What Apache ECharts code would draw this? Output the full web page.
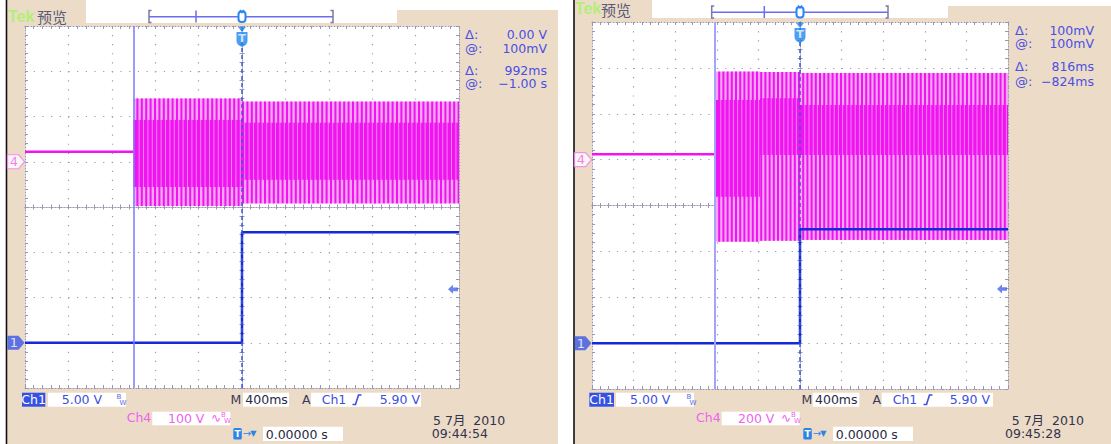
<!DOCTYPE html>
<html><head><meta charset="utf-8">
<script src="https://cdn.jsdelivr.net/npm/echarts@6.0.0/dist/echarts.min.js"></script>
<style>html,body{margin:0;padding:0;background:#fff;overflow:hidden}#c{width:1111px;height:444px}</style>
</head><body><div id="c"></div>
<script>
// ===================== DATA (read from the two captures) =====================
// time base: 400 ms/div, 10 divisions, trigger point at 0 ms
const TIME_MIN = -2000, TIME_MAX = 2000, TIME_DIV = 400;
const DIV_MIN = -4, DIV_MAX = 4;

// ---- left capture ----
const L_CH1_VDIV = 5,   L_CH1_POS = -3;   // Ch1 5.00 V/div, ground marker 3 div below centre
const L_CH4_VDIV = 100, L_CH4_POS = 1;    // Ch4 100 V/div, ground marker 1 div above centre
const L_CH1_TIME = [-2000, 0, 0, 2000];
const L_CH1_VOLT = [0, 0, 12.2, 12.2];
const L_CH4_IDLE_TIME = [-2000, -1000];
const L_CH4_IDLE_VOLT = [22, 22];
const L_ENV_START = [-1000, 0];
const L_ENV_END   = [0, 2000];
const L_ENV_MAX   = [140, 133];
const L_ENV_MIN   = [-98, -92];
const L_CORE_MAX  = [92, 86];
const L_CORE_MIN  = [-56, -40];
const L_CURSOR = -1000;
const L_TRIG_LEVEL = 5.90;
const L_READ_VALUES = ['0.00 V', '100mV', '992ms', '\u22121.00 s'];
const L_DATE = '5 7月  2010', L_CLOCK = '09:44:54';

// ---- right capture ----
const R_CH1_VDIV = 5,   R_CH1_POS = -3;
const R_CH4_VDIV = 200, R_CH4_POS = 1;
const R_CH1_TIME = [-2000, 0, 0, 2000];
const R_CH1_VOLT = [0, 0, 12.4, 12.4];
const R_CH4_IDLE_TIME = [-2000, -820];
const R_CH4_IDLE_VOLT = [23, 23];
const R_ENV_START = [-820, -385, 0];
const R_ENV_END   = [-385, 0, 2000];
const R_ENV_MAX   = [384, 382, 378];
const R_ENV_MIN   = [-358, -354, -350];
const R_CORE_MAX  = [260, 268, 238];
const R_CORE_MIN  = [-162, 20, 20];
const R_CURSOR = -824;
const R_TRIG_LEVEL = 5.90;
const R_READ_VALUES = ['100mV', '100mV', '816ms', '\u2212824ms'];
const R_DATE = '5 7月  2010', R_CLOCK = '09:45:28';

const READ_LABELS = ['\u0394:', '@:', '\u0394:', '@:'];

// ===================== STYLE / LAYOUT =====================
const BEIGE = '#ecdcc7', GRID_C = '#9898b4', MAG = '#f014f0', PINK = '#f6a6f4';
const BLUE = '#1629d8', READ_C = '#4a4fe6', DARK = '#33334d', PINKTXT = '#ee62ee';
const F = '"DejaVu Sans", "Noto Sans CJK SC", sans-serif';

const PANELS = [
  { grid: {left: 25, top: 26, width: 434, height: 362}, stripe: 4.4,
    ch1: {vdiv: L_CH1_VDIV, pos: L_CH1_POS, t: L_CH1_TIME, v: L_CH1_VOLT},
    ch4: {vdiv: L_CH4_VDIV, pos: L_CH4_POS, t: L_CH4_IDLE_TIME, v: L_CH4_IDLE_VOLT,
          env: [L_ENV_START, L_ENV_END, L_ENV_MAX, L_ENV_MIN, L_CORE_MAX, L_CORE_MIN]},
    cursor: L_CURSOR, cursorStyle: {color: '#7878ff', width: 1.5}, trig: L_TRIG_LEVEL,
    read: L_READ_VALUES, date: L_DATE, clock: L_CLOCK },
  { grid: {left: 592, top: 22, width: 416, height: 367}, stripe: 4.2,
    ch1: {vdiv: R_CH1_VDIV, pos: R_CH1_POS, t: R_CH1_TIME, v: R_CH1_VOLT},
    ch4: {vdiv: R_CH4_VDIV, pos: R_CH4_POS, t: R_CH4_IDLE_TIME, v: R_CH4_IDLE_VOLT,
          env: [R_ENV_START, R_ENV_END, R_ENV_MAX, R_ENV_MIN, R_CORE_MAX, R_CORE_MIN]},
    cursor: R_CURSOR, cursorStyle: {color: '#a4a4ff', width: 2}, trig: R_TRIG_LEVEL,
    read: R_READ_VALUES, date: R_DATE, clock: R_CLOCK }
];

// ===================== BUILD =====================
const xAxes = [], yAxes = [], grids = [], series = [];

function baseAxis(gi, extra) {
  return Object.assign({type: 'value', gridIndex: gi, axisLabel: {show: false},
    splitLine: {show: false}, axisTick: {show: false}, minorTick: {show: false},
    axisPointer: {show: false}, silent: true}, extra);
}
function lineAxis(onZero, zeroIdx) {
  const o = {show: true, onZero: onZero, lineStyle: {color: GRID_C, width: 1, type: [1, 2]}};
  if (zeroIdx != null) o.onZeroAxisIndex = zeroIdx;
  return o;
}
function ticks(inside, len) {
  return {
    axisTick: {show: true, inside: inside, length: len, lineStyle: {color: GRID_C}},
    minorTick: {show: true, splitNumber: 5, length: len, lineStyle: {color: GRID_C}}
  };
}

function envelopeRenderer(period) {
  return function (params, api) {
    const t0 = api.value(0), t1 = api.value(1);
    const a = api.coord([t0, api.value(2)]), b = api.coord([t1, api.value(3)]);
    const c = api.coord([t0, api.value(4)]), d = api.coord([t1, api.value(5)]);
    const x0 = a[0], x1 = b[0];
    const kids = [{type: 'rect', shape: {x: x0, y: a[1], width: x1 - x0, height: b[1] - a[1]}, style: {fill: PINK}}];
    const first = Math.ceil(x0 / period) * period;
    for (let x = first; x < x1 - 0.5; x += period) {
      kids.push({type: 'rect', shape: {x: x, y: a[1], width: Math.min(2, x1 - x), height: b[1] - a[1]}, style: {fill: MAG}});
    }
    kids.push({type: 'rect', shape: {x: x0, y: c[1], width: x1 - x0, height: d[1] - c[1]}, style: {fill: MAG}});
    for (let x = first + period / 2; x < x1 - 0.5; x += period) {
      kids.push({type: 'rect', shape: {x: x, y: c[1], width: 1, height: d[1] - c[1]}, style: {fill: PINK, opacity: 0.75}});
    }
    return {type: 'group', children: kids};
  };
}

const PENT = 'path://M0,0 L11,0 L17,7 L11,14 L0,14 Z';
const SHIELD = 'path://M0,0 L10,0 L10,9 Q10,13 5,15 Q0,13 0,9 Z';
const TRI_DOWN = 'path://M0,0 L8,0 L4,5 Z';
const ARROW_L = 'path://M0,5 L5,0 L5,3 L10,3 L10,7 L5,7 L5,10 Z';

PANELS.forEach(function (P, gi) {
  const g = P.grid;
  grids.push(Object.assign({show: true, backgroundColor: '#ffffff', borderWidth: 0}, g));
  const xb = xAxes.length, yb = yAxes.length;
  const xs = {min: TIME_MIN, max: TIME_MAX, interval: TIME_DIV};
  const ys = {min: DIV_MIN, max: DIV_MAX, interval: 1};
  const vPeriod = g.height / 40, hPeriod = g.width / 50;
  // x axes: bottom (with vertical dotted grid), top, centre line (two tick sides)
  xAxes.push(baseAxis(gi, Object.assign({}, xs, {position: 'bottom', axisLine: lineAxis(false)},
    ticks(true, 3), {splitLine: {show: true, lineStyle: {color: GRID_C, width: 1.2, type: [1.2, vPeriod - 1.2]}}})));
  xAxes.push(baseAxis(gi, Object.assign({}, xs, {position: 'top', axisLine: lineAxis(false)}, ticks(true, 3))));
  xAxes.push(baseAxis(gi, Object.assign({}, xs, {position: 'bottom', axisLine: lineAxis(true, yb)}, ticks(true, 2.5))));
  xAxes.push(baseAxis(gi, Object.assign({}, xs, {position: 'bottom', axisLine: lineAxis(true, yb)}, ticks(false, 2.5))));
  // y axes in divisions: left (horizontal dotted grid), right, centre line
  yAxes.push(baseAxis(gi, Object.assign({}, ys, {position: 'left', axisLine: lineAxis(false)},
    ticks(true, 3), {splitLine: {show: true, lineStyle: {color: GRID_C, width: 1.2, type: [1.2, hPeriod - 1.2]}}})));
  yAxes.push(baseAxis(gi, Object.assign({}, ys, {position: 'right', axisLine: lineAxis(false)}, ticks(true, 3))));
  yAxes.push(baseAxis(gi, Object.assign({}, ys, {position: 'left', axisLine: lineAxis(true, xb)}, ticks(true, 2.5))));
  yAxes.push(baseAxis(gi, Object.assign({}, ys, {position: 'left', axisLine: lineAxis(true, xb)}, ticks(false, 2.5))));
  // channel scales (volts), hidden
  const ch1Idx = yAxes.length;
  yAxes.push({type: 'value', gridIndex: gi, show: false, axisLine: {onZero: false},
    min: (DIV_MIN - P.ch1.pos) * P.ch1.vdiv, max: (DIV_MAX - P.ch1.pos) * P.ch1.vdiv});
  const ch4Idx = yAxes.length;
  yAxes.push({type: 'value', gridIndex: gi, show: false, axisLine: {onZero: false},
    min: (DIV_MIN - P.ch4.pos) * P.ch4.vdiv, max: (DIV_MAX - P.ch4.pos) * P.ch4.vdiv});

  const env = P.ch4.env;
  const envRows = env[0].map(function (t, i) { return [env[0][i], env[1][i], env[2][i], env[3][i], env[4][i], env[5][i]]; });
  series.push({type: 'custom', xAxisIndex: xb, yAxisIndex: ch4Idx, z: 2, silent: true,
    renderItem: envelopeRenderer(P.stripe), encode: {x: [0, 1], y: [2, 3]}, data: envRows, clip: true});
  series.push({type: 'line', xAxisIndex: xb, yAxisIndex: ch4Idx, z: 3, silent: true, showSymbol: false,
    lineStyle: {color: MAG, width: 2.5}, data: P.ch4.t.map(function (t, i) { return [t, P.ch4.v[i]]; })});
  series.push({type: 'line', xAxisIndex: xb, yAxisIndex: ch1Idx, z: 4, silent: true, showSymbol: false,
    lineStyle: {color: BLUE, width: 2.5}, data: P.ch1.t.map(function (t, i) { return [t, P.ch1.v[i]]; }),
    markLine: {silent: true, symbol: 'none', label: {show: false}, animation: false,
      data: [
        {xAxis: P.cursor, lineStyle: Object.assign({type: 'solid'}, P.cursorStyle)},
        {xAxis: 0, lineStyle: {color: '#3a5ad6', width: 1.5, type: [4, 3]}}
      ]}});
  // channel ground markers + trigger level arrow
  series.push({type: 'scatter', xAxisIndex: xb, yAxisIndex: ch4Idx, z: 6, silent: true, clip: false,
    data: [{value: [TIME_MIN, 0], symbol: PENT, symbolSize: [17, 14], symbolOffset: [-9, 0],
      itemStyle: {color: '#ffffff', borderColor: '#f27af2', borderWidth: 1.2},
      label: {show: true, position: 'inside', formatter: '4', color: '#f060f0', fontSize: 13, fontFamily: F, offset: [-2, 0]}}]});
  series.push({type: 'scatter', xAxisIndex: xb, yAxisIndex: ch1Idx, z: 6, silent: true, clip: false,
    data: [
      {value: [TIME_MIN, 0], symbol: PENT, symbolSize: [17, 14], symbolOffset: [-9, 0],
        itemStyle: {color: '#3a56e6'},
        label: {show: true, position: 'inside', formatter: '1', color: '#ffffff', fontSize: 13, fontFamily: F, offset: [-2, 0]}},
      {value: [TIME_MAX, P.trig], symbol: ARROW_L, symbolSize: [10, 9], symbolOffset: [-6, 0],
        itemStyle: {color: '#4a64ea'}}
    ]});
  // trigger position marker at the top
  series.push({type: 'scatter', xAxisIndex: xb, yAxisIndex: yb, z: 7, silent: true, clip: false,
    data: [
      {value: [0, DIV_MAX], symbol: TRI_DOWN, symbolSize: [8, 5], symbolOffset: [0, 3.5], itemStyle: {color: '#1f86ef'}},
      {value: [0, DIV_MAX], symbol: SHIELD, symbolSize: [11, 15], symbolOffset: [0, 13.5], itemStyle: {color: '#1f86ef'},
        label: {show: true, position: 'inside', formatter: 'T', color: '#ffffff', fontSize: 11, fontWeight: 'bold', fontFamily: F, offset: [0, -1]}}
    ]});
});

// ===================== DECORATION / TEXT (graphic) =====================
const G = [];
function rect(x, y, w, h, fill, z, r) { G.push({type: 'rect', z: z == null ? -100 : z, silent: true, shape: {x: x, y: y, width: w, height: h, r: r || 0}, style: {fill: fill}}); }
function text(x, y, s, color, font, align) {
  G.push({type: 'text', x: x, y: y, z: 50, silent: true,
    style: {text: s, fill: color, font: font, textAlign: align || 'left', align: align || 'left', textVerticalAlign: 'middle', verticalAlign: 'middle'}});
}
function pline(pts, color, w) { G.push({type: 'polyline', z: 50, silent: true, shape: {points: pts}, style: {stroke: color, lineWidth: w, fill: null}}); }
function fmtV(v) { return (v >= 100 ? v.toFixed(0) : v.toFixed(2)) + ' V'; }

const LAYOUT = [
  { bg: [6, 0, 552, 444], black: 6.5, white: [[86, 0, 311, 23], [397, 0, 161, 10]], tekBox: [6, 0, 80, 23],
    tek: [8, 16], pv: [37, 16.3], bar: {y: 16.7, x0: 149, x1: 333, tick: 196, trig: 242, top: 10.5, bot: 22.5},
    readX: 465, readR: 547, readY: [34, 48, 70.5, 83.5],
    ch1Box: [22, 392.7, 23.3, 14], ch1Txt: 33.6, vBox: [48, 392.7, 78, 14], vTxt: 61.7, bw1: 116.5,
    m: 230.5, mBox: [243, 392.7, 46, 14], mTxt: 245.3, a: 302, aBox: [311, 392.7, 110, 14], aCh: 321.7, slope: 352.5, aV: 420,
    ch4Txt: 126.7, ch4Box: [152.3, 411.7, 78, 13.5], ch4V: 168, sine: 211, bw2: 221,
    tIcon: 233.3, tBox: [263, 426.7, 80, 14.3], tTxt: 265.7, date: [433, 420], clock: [431.7, 433.5] },
  { bg: [574, 0, 537, 444], black: 574, white: [[652, 0, 296, 18], [948, 0, 163, 6]], tekBox: [574, 0, 78, 18],
    tek: [575, 8.5], pv: [601, 9.5], bar: {y: 12.3, x0: 711.7, x1: 888, tick: 764.3, trig: 800, top: 6, bot: 18},
    readX: 1015, readR: 1094, readY: [30, 43.5, 66.3, 81],
    ch1Box: [589.3, 392.7, 24.7, 14], ch1Txt: 601.6, vBox: [616, 392.7, 78, 14], vTxt: 630, bw1: 686.5,
    m: 801.5, mBox: [812.7, 392.7, 46.6, 14], mTxt: 815, a: 872.5, aBox: [881.7, 392.7, 111.3, 14], aCh: 892.7, slope: 923.5, aV: 990,
    ch4Txt: 696, ch4Box: [721.7, 411.7, 78, 13.5], ch4V: 738, sine: 781, bw2: 791,
    tIcon: 803.3, tBox: [833, 426.7, 80, 14.3], tTxt: 835.7, date: [1011.7, 420], clock: [1005, 433.5] }
];

LAYOUT.forEach(function (L, i) {
  const P = PANELS[i];
  rect(L.bg[0], L.bg[1], L.bg[2], L.bg[3], BEIGE, -100);
  L.white.forEach(function (w) { rect(w[0], w[1], w[2], w[3], '#ffffff', -99); });
  rect(L.tekBox[0], L.tekBox[1], L.tekBox[2], L.tekBox[3], BEIGE, -98);
  rect(L.black - 0.8, 0, 1.6, 444, '#111111', -97);
  text(L.tek[0], L.tek[1], 'Tek', '#b2ef78', 'bold 16px "Liberation Sans", sans-serif');
  text(L.pv[0], L.pv[1], '预览', '#5a5a7a', '15px "Noto Sans CJK SC", sans-serif');
  // record window bar
  const B = L.bar, bc = '#6a6ef0';
  pline([[B.x0, B.y], [B.x1, B.y]], bc, 1.5);
  pline([[B.x0 + 2.5, B.top], [B.x0, B.top], [B.x0, B.bot], [B.x0 + 2.5, B.bot]], '#7a7aa8', 1.5);
  pline([[B.x1 - 2.5, B.top], [B.x1, B.top], [B.x1, B.bot], [B.x1 - 2.5, B.bot]], '#7a7aa8', 1.5);
  pline([[B.tick, B.top], [B.tick, B.bot]], bc, 1.5);
  G.push({type: 'rect', z: 50, silent: true, shape: {x: B.trig - 3.5, y: B.top + 1, width: 7, height: B.bot - B.top - 1.5, r: 3},
    style: {fill: '#ffffff', stroke: '#2a86ee', lineWidth: 2}});
  pline([[B.trig - 2, B.top - 0.5], [B.trig, B.top + 2], [B.trig + 2, B.top - 0.5]], '#2a86ee', 1.5);
  // cursor readouts
  READ_LABELS.forEach(function (lab, k) {
    text(L.readX, L.readY[k], lab, READ_C, '13px ' + F);
    text(L.readR, L.readY[k], P.read[k], READ_C, '12.5px ' + F, 'right');
  });
  // bottom status row
  const fb = '12.5px ' + F;
  rect(L.ch1Box[0], L.ch1Box[1], L.ch1Box[2], L.ch1Box[3], '#3552e2', 40);
  text(L.ch1Txt, 399.7, 'Ch1', '#ffffff', fb, 'center');
  rect(L.vBox[0], L.vBox[1], L.vBox[2], L.vBox[3], '#ffffff', 40);
  text(L.vTxt, 399.7, fmtV(P.ch1.vdiv), '#3d4fe0', fb);
  text(L.bw1, 396.5, 'B', '#5a6ae8', '7px ' + F); text(L.bw1 + 3, 402.5, 'W', '#5a6ae8', '7px ' + F);
  text(L.m, 399.7, 'M', '#3a3a58', fb);
  rect(L.mBox[0], L.mBox[1], L.mBox[2], L.mBox[3], '#ffffff', 40);
  text(L.mTxt, 399.7, TIME_DIV + 'ms', '#2a2a44', fb);
  text(L.a, 399.7, 'A', '#3a3a58', fb);
  rect(L.aBox[0], L.aBox[1], L.aBox[2], L.aBox[3], '#ffffff', 40);
  text(L.aCh, 399.7, 'Ch1', '#3d4fe0', fb);
  pline([[L.slope, 404.5], [L.slope + 3, 404.5], [L.slope + 6, 395], [L.slope + 9, 395]], '#3d4fe0', 1.6);
  text(L.aV, 399.7, fmtV(P.trig), '#3d4fe0', fb, 'right');
  text(L.ch4Txt, 417.8, 'Ch4', PINKTXT, fb);
  rect(L.ch4Box[0], L.ch4Box[1], L.ch4Box[2], L.ch4Box[3], '#ffffff', 40);
  text(L.ch4V, 418, fmtV(P.ch4.vdiv), PINKTXT, fb);
  text(L.sine, 417.5, '\u223F', PINKTXT, '12px ' + F);
  text(L.bw2, 414.5, 'B', PINKTXT, '7px ' + F); text(L.bw2 + 3, 420.5, 'W', PINKTXT, '7px ' + F);
  rect(L.tIcon, 428, 8.5, 11.5, '#2b84e8', 40, 1.5);
  text(L.tIcon + 4.25, 433.8, 'T', '#ffffff', 'bold 9px ' + F, 'center');
  text(L.tIcon + 9.5, 433.5, '\u2192', '#2b84e8', '10px ' + F);
  text(L.tIcon + 17, 433.5, '\u25BC', '#2b84e8', '8px ' + F);
  rect(L.tBox[0], L.tBox[1], L.tBox[2], L.tBox[3], '#ffffff', 40);
  text(L.tTxt, 434, '0.00000 s', '#2a2a44', fb);
  text(L.date[0], L.date[1], P.date, DARK, fb);
  text(L.clock[0], L.clock[1], P.clock, DARK, fb);
});

const chart = echarts.init(document.getElementById('c'), null, {renderer: 'svg', width: 1111, height: 444});
chart.setOption({
  animation: false,
  backgroundColor: '#ffffff',
  grid: grids,
  xAxis: xAxes,
  yAxis: yAxes,
  series: series,
  graphic: {elements: G}
});
</script>
</body></html>
